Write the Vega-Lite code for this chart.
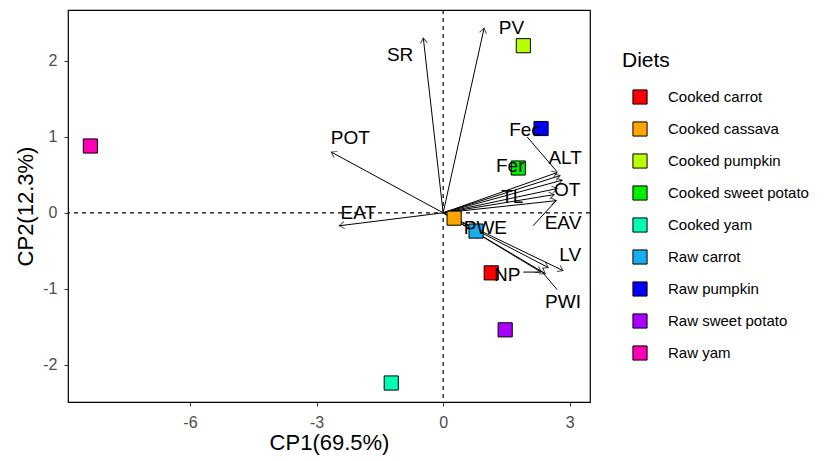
{
  "$schema": "https://vega.github.io/schema/vega-lite/v6.json",
  "width": 522,
  "height": 392,
  "autosize": "none",
  "padding": {"left": 68, "top": 10, "right": 249, "bottom": 59},
  "background": "white",
  "config": {
    "font": "Liberation Sans",
    "view": {"stroke": "black", "strokeWidth": 1.2},
    "axis": {"grid": false, "domain": false, "tickColor": "#333333", "tickSize": 4, "labelColor": "#4d4d4d", "labelFontSize": 16, "titleFontSize": 22, "titleFontWeight": "normal", "titleColor": "black"}
  },
  "datasets": {
    "ind": [
      {"diet": "Cooked carrot", "x": 1.14, "y": -0.79},
      {"diet": "Cooked cassava", "x": 0.26, "y": -0.07},
      {"diet": "Cooked pumpkin", "x": 1.9, "y": 2.2},
      {"diet": "Cooked sweet potato", "x": 1.78, "y": 0.59},
      {"diet": "Cooked yam", "x": -1.23, "y": -2.24},
      {"diet": "Raw carrot", "x": 0.78, "y": -0.24},
      {"diet": "Raw pumpkin", "x": 2.32, "y": 1.11},
      {"diet": "Raw sweet potato", "x": 1.47, "y": -1.54},
      {"diet": "Raw yam", "x": -8.36, "y": 0.88}
    ],
    "vars": [
      {"var": "SR", "x": -0.47, "y": 2.3, "lx": -1.02, "ly": 2.08},
      {"var": "PV", "x": 0.97, "y": 2.43, "lx": 1.62, "ly": 2.43},
      {"var": "POT", "x": -2.65, "y": 0.8, "lx": -2.2, "ly": 0.99},
      {"var": "EAT", "x": -2.46, "y": -0.17, "lx": -2.01, "ly": 0.0},
      {"var": "Fec", "x": 2.7, "y": 0.53, "lx": 1.94, "ly": 1.09},
      {"var": "ALT", "x": 2.77, "y": 0.49, "lx": 2.89, "ly": 0.72},
      {"var": "Fer", "x": 2.82, "y": 0.43, "lx": 1.59, "ly": 0.61},
      {"var": "TL", "x": 2.63, "y": 0.24, "lx": 1.64, "ly": 0.21},
      {"var": "OT", "x": 2.7, "y": 0.32, "lx": 2.94, "ly": 0.3},
      {"var": "EAV", "x": 2.68, "y": 0.16, "lx": 2.84, "ly": -0.13},
      {"var": "PWE", "x": 2.49, "y": -0.72, "lx": 1.0, "ly": -0.2},
      {"var": "LV", "x": 2.84, "y": -0.76, "lx": 3.01, "ly": -0.55},
      {"var": "NP", "x": 2.32, "y": -0.78, "lx": 1.52, "ly": -0.82},
      {"var": "PWI", "x": 2.42, "y": -0.8, "lx": 2.84, "ly": -1.17}
    ],
    "segs": [
      {"var": "Fec", "x": 1.99, "y": 1.0, "x2": 2.7, "y2": 0.54},
      {"var": "NP", "x": 1.9, "y": -0.78, "x2": 2.3, "y2": -0.78},
      {"var": "PWI", "x": 2.7, "y": -1.01, "x2": 2.32, "y2": -0.76},
      {"var": "EAV", "x": 2.13, "y": -0.17, "x2": 2.68, "y2": 0.16}
    ]
  },
  "layer": [
    {
      "data": {"values": [{"v": 0}]},
      "mark": {"type": "rule", "strokeDash": [4, 4], "color": "black", "strokeWidth": 1.2},
      "encoding": {"x": {"field": "v", "type": "quantitative", "scale": {"domain": [-8.89, 3.48], "nice": false, "zero": false}}}
    },
    {
      "data": {"values": [{"v": 0}]},
      "mark": {"type": "rule", "strokeDash": [4, 4], "color": "black", "strokeWidth": 1.2},
      "encoding": {"y": {"field": "v", "type": "quantitative", "scale": {"domain": [-2.49, 2.67], "nice": false, "zero": false}}}
    },
    {
      "data": {"name": "vars"},
      "mark": {"type": "rule", "color": "black", "strokeWidth": 1},
      "encoding": {
        "x": {"field": "x", "type": "quantitative"},
        "y": {"field": "y", "type": "quantitative"},
        "x2": {"datum": 0},
        "y2": {"datum": 0}
      }
    },
    {
      "data": {"name": "vars"},
      "transform": [{"calculate": "atan2(datum.x * 42.2, datum.y * 75.9) * 180 / PI", "as": "ang"}],
      "mark": {"type": "point", "shape": "M -0.7 1 L 0 0 L 0.7 1", "filled": false, "stroke": "black", "strokeWidth": 1, "size": 100},
      "encoding": {
        "x": {"field": "x", "type": "quantitative"},
        "y": {"field": "y", "type": "quantitative"},
        "angle": {"field": "ang", "type": "quantitative", "scale": null}
      }
    },
    {
      "data": {"name": "segs"},
      "mark": {"type": "rule", "color": "black", "strokeWidth": 1},
      "encoding": {
        "x": {"field": "x", "type": "quantitative"},
        "y": {"field": "y", "type": "quantitative"},
        "x2": {"field": "x2"},
        "y2": {"field": "y2"}
      }
    },
    {
      "data": {"name": "ind"},
      "mark": {"type": "point", "shape": "square", "filled": true, "stroke": "black", "strokeWidth": 1, "size": 200, "opacity": 1},
      "encoding": {
        "x": {"field": "x", "type": "quantitative", "title": "CP1(69.5%)", "axis": {"values": [-6, -3, 0, 3], "labelExpr": "'' + datum.value", "labelPadding": 8, "titlePadding": 2}},
        "y": {"field": "y", "type": "quantitative", "title": "CP2(12.3%)", "axis": {"values": [-2, -1, 0, 1, 2], "labelExpr": "'' + datum.value", "labelPadding": 7, "titlePadding": 5}},
        "fill": {
          "field": "diet", "type": "nominal", "title": "Diets",
          "scale": {
            "domain": ["Cooked carrot", "Cooked cassava", "Cooked pumpkin", "Cooked sweet potato", "Cooked yam", "Raw carrot", "Raw pumpkin", "Raw sweet potato", "Raw yam"],
            "range": ["#FF0000", "#FFA500", "#B8FF00", "#00EE00", "#00FFB4", "#1AADEE", "#0000FF", "#AA00FF", "#FF00B4"]
          },
          "legend": {
            "orient": "none", "legendX": 554, "legendY": 40,
            "titleFontSize": 21, "titleFontWeight": "normal", "titleColor": "black", "titlePadding": 18,
            "labelFontSize": 15, "labelColor": "black", "labelOffset": 20,
            "symbolType": "square", "symbolSize": 200, "symbolStrokeColor": "black", "symbolStrokeWidth": 1,
            "rowPadding": 12, "padding": 0, "offset": 0, "symbolOffset": 10
          }
        }
      }
    },
    {
      "data": {"name": "vars"},
      "mark": {"type": "text", "fontSize": 19, "color": "black", "align": "center", "baseline": "middle"},
      "encoding": {
        "x": {"field": "lx", "type": "quantitative"},
        "y": {"field": "ly", "type": "quantitative"},
        "text": {"field": "var"}
      }
    }
  ]
}
